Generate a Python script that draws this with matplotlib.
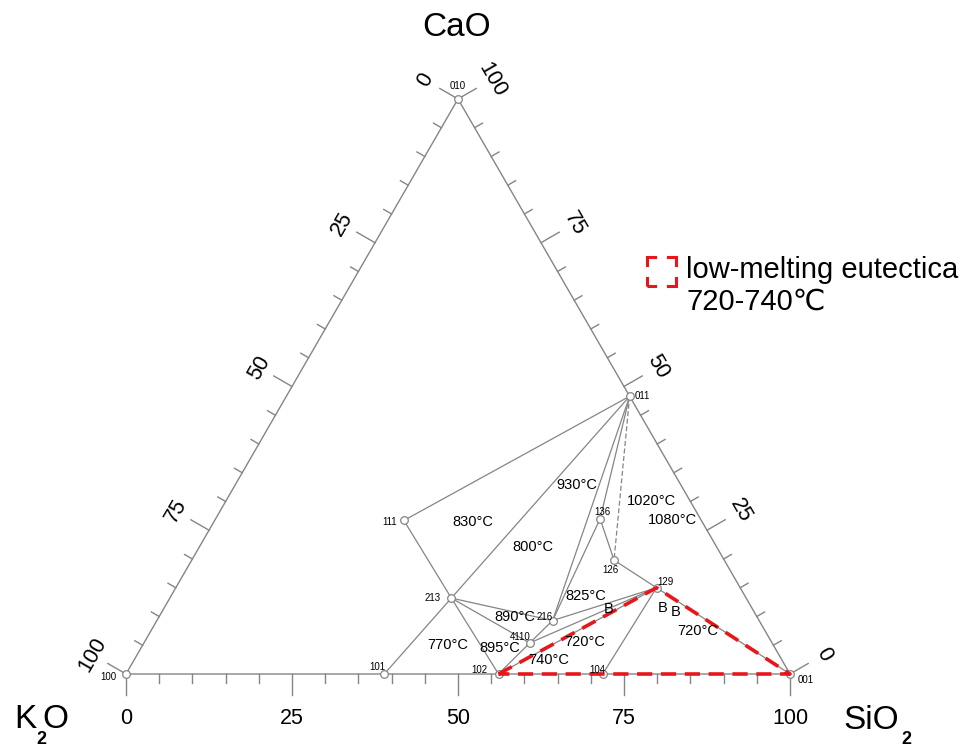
import numpy as np
import matplotlib
matplotlib.use('Agg')
import matplotlib.pyplot as plt
from matplotlib.patches import Rectangle

plt.rcParams['font.family'] = ['Liberation Sans', 'DejaVu Sans']

# ---------------- data (wt%) ----------------
compound_labels = ['100', '010', '001', '011', '101', '102', '104',
                   '111', '213', '216', '4110', '136', '126', '129']
k2o  = [100, 0, 0, 0, 61.1, 43.9, 28.2, 44.8, 44.4, 31.1, 36.5, 15.1, 16.6, 12.6]
cao  = [0, 100, 0, 48.3, 0, 0, 0, 26.7, 13.2, 9.3, 5.4, 27.0, 19.8, 15.0]
sio2 = [0, 0, 100, 51.7, 38.9, 56.1, 71.8, 28.5, 42.4, 59.6, 58.1, 57.9, 63.6, 72.4]

tie_lines = [('111', '011'), ('111', '213'), ('213', '101'), ('213', '011'),
             ('213', '216'), ('213', '4110'), ('213', '102'), ('011', '216'),
             ('011', '136'), ('136', '216'), ('136', '126'), ('126', '129'),
             ('216', '129'), ('4110', '129'), ('4110', '102'), ('216', '4110'),
             ('102', '129'), ('104', '129'), ('129', '001')]
dashed_tie_lines = [('011', '126')]
eutectic_triangle = ['102', '129', '001', '102']

region_labels = ['830°C', '800°C', '930°C', '1020°C', '1080°C', '825°C', 'B',
                 '890°C', '895°C', '770°C', '720°C', '740°C', 'B', 'B', '720°C']
region_k2o  = [34.5, 27.7, 15.7, 5.8, 4.3, 23.9, 21.6, 36.4, 41.4, 49.0, 28.1, 35.1, 13.5, 11.9, 10.2]
region_cao  = [26.5, 22.1, 32.8, 30.1, 26.7, 13.6, 11.3, 9.9, 4.5, 5.1, 5.6, 2.4, 11.5, 10.8, 7.5]
region_sio2 = [39.0, 50.2, 51.5, 64.1, 69.0, 62.5, 67.1, 53.6, 54.1, 45.9, 66.3, 62.5, 75.0, 77.3, 82.3]

ticks = list(range(0, 101, 5))
tick_labels = [0, 25, 50, 75, 100]

# ---------------- layout ----------------
W, H = 962, 749
S = 664.0          # px per unit side
X0, Y0 = 126, 674  # K2O vertex in px (from top)
fig = plt.figure(figsize=(W / 100, H / 100), dpi=100)
ax = fig.add_axes([0, 0, 1, 1])
ax.set_xlim(-X0 / S, (W - X0) / S)
ax.set_ylim(-(H - Y0) / S, Y0 / S)
ax.axis('off')

h3 = np.sqrt(3) / 2


def tern(k, c, s):
    t = k + c + s
    return (s + c / 2) / t, c * h3 / t


def px(x, y):
    return (x - X0) / S, (Y0 - y) / S


pos = {lab: tern(k, c, s) for lab, k, c, s in zip(compound_labels, k2o, cao, sio2)}

grey = '#858585'
# triangle edges
tri = [tern(100, 0, 0), tern(0, 0, 100), tern(0, 100, 0), tern(100, 0, 0)]
ax.plot([p[0] for p in tri], [p[1] for p in tri], color=grey, lw=1.0, zorder=2)

# ticks
nb = (0, -1)
nl = (-h3, 0.5)
nr = (h3, 0.5)
for v in ticks:
    L = (21 if v % 25 == 0 else 9) / S
    bx, by = tern(100 - v, 0, v)
    ax.plot([bx, bx + nb[0] * L], [by, by + nb[1] * L], color=grey, lw=1.0)
    lx, ly = tern(v, 100 - v, 0)
    ax.plot([lx, lx + nl[0] * L], [ly, ly + nl[1] * L], color=grey, lw=1.0)
    rx, ry = tern(0, v, 100 - v)
    ax.plot([rx, rx + nr[0] * L], [ry, ry + nr[1] * L], color=grey, lw=1.0)

for v in tick_labels:
    bx, by = tern(100 - v, 0, v)
    ax.text(bx, by - 44 / S, str(v), ha='center', va='center', fontsize=15.5)
    lx, ly = tern(v, 100 - v, 0)
    d = 38 / S
    ax.text(lx + nl[0] * d, ly + nl[1] * d, str(v), ha='center', va='center',
            fontsize=15.5, rotation=60)
    rx, ry = tern(0, v, 100 - v)
    d = 39 / S
    ax.text(rx + nr[0] * d, ry + nr[1] * d, str(v), ha='center', va='center',
            fontsize=15.5, rotation=-60)

# tie lines
for a, b in tie_lines:
    ax.plot([pos[a][0], pos[b][0]], [pos[a][1], pos[b][1]], color=grey, lw=0.9, zorder=3)
for a, b in dashed_tie_lines:
    ax.plot([pos[a][0], pos[b][0]], [pos[a][1], pos[b][1]], color=grey, lw=0.9,
            dashes=(4, 2), zorder=3)

# eutectic triangle
ax.plot([pos[p][0] for p in eutectic_triangle], [pos[p][1] for p in eutectic_triangle],
        color='#e8161b', lw=2.6, dashes=(4.2, 2.4), zorder=5)

# compound points
xs = [pos[l][0] for l in compound_labels]
ys = [pos[l][1] for l in compound_labels]
ax.plot(xs, ys, 'o', ms=5.5, mfc='white', mec=grey, mew=0.9, zorder=4, ls='none')

label_offsets = {'100': (-18, -3), '010': (0, 13), '001': (16, -6), '011': (13, 0),
                 '101': (-7, 7), '102': (-19, 4), '104': (-5, 4), '111': (-14, -2),
                 '213': (-19, 0), '216': (-8, 4), '4110': (-10, 6), '136': (2, 7),
                 '126': (-4, -10), '129': (9, 6)}
for lab in compound_labels:
    dx, dy = label_offsets[lab]
    ax.annotate(lab, pos[lab], xytext=(dx * 0.72, dy * 0.72), textcoords='offset points',
                ha='center', va='center', fontsize=7, zorder=6)

# region labels
for lab, k, c, s in zip(region_labels, region_k2o, region_cao, region_sio2):
    x, y = tern(k, c, s)
    ax.text(x, y, lab, ha='center', va='center', fontsize=10.5, zorder=6)

# axis titles
ax.text(*px(457, 27), 'CaO', ha='center', va='center', fontsize=24)
ax.text(*px(14, 728), 'K', ha='left', va='baseline', fontsize=24)
ax.text(*px(42, 728), 'O', ha='left', va='baseline', fontsize=24)
ax.text(*px(36, 744), '2', ha='left', va='baseline', fontsize=13, fontweight='bold')
ax.text(*px(843, 729), 'SiO', ha='left', va='baseline', fontsize=24)
ax.text(*px(901, 744), '2', ha='left', va='baseline', fontsize=13, fontweight='bold')

# legend
lx0, ly0 = px(647, 286)
side = 29 / S
lw_leg = 2.2
side_pt = 29 * 0.72 / lw_leg
rect = Rectangle((lx0, ly0), side, side, fill=False, edgecolor='#e8161b', lw=lw_leg,
                 linestyle=(side_pt * 0.33, (side_pt * 0.66, side_pt * 0.34)), zorder=6)
ax.add_patch(rect)
ax.text(*px(686, 270), 'low-melting eutectica', ha='left', va='center', fontsize=21)
ax.text(*px(686, 302), '720-740\u2103', ha='left', va='center', fontsize=21,
        family=['Liberation Sans', 'DejaVu Sans', 'Noto Sans CJK SC'])

fig.savefig('out.png', dpi=100)
